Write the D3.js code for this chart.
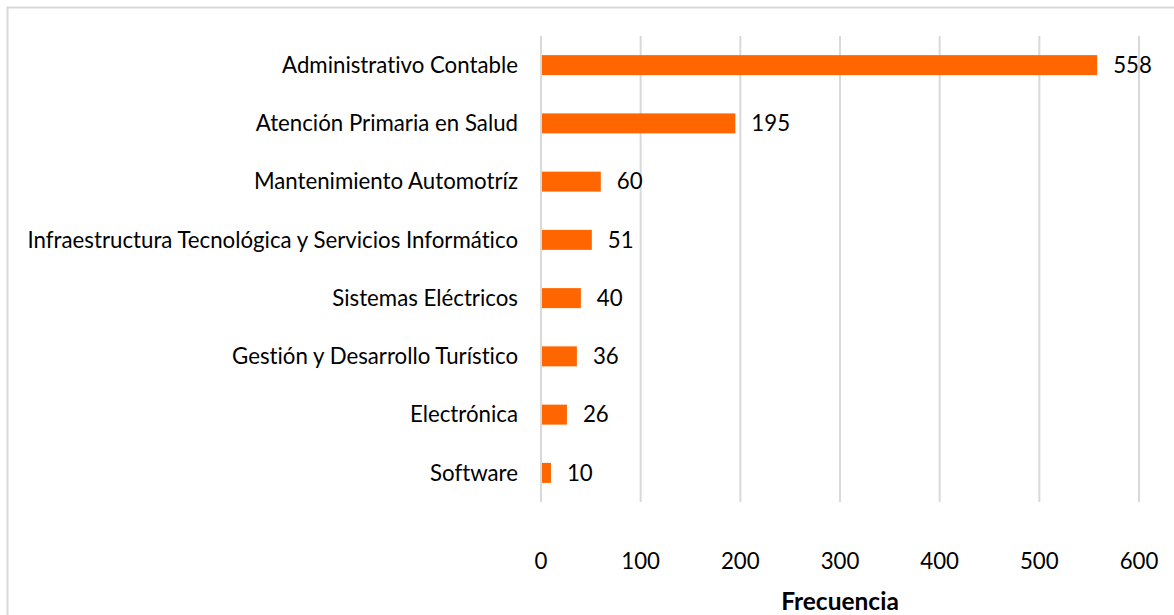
<!DOCTYPE html>
<html>
<head>
<meta charset="utf-8">
<script src="https://cdn.jsdelivr.net/npm/d3@7"></script>
<style>
  body { margin: 0; background: #fff; }
  text { font-family: Lato, "Open Sans", sans-serif; fill: #000; font-variant-ligatures: none; }
</style>
</head>
<body>
<div class="chart-area"></div>
<script>
const categories = [
    "Administrativo Contable",
    "Atención Primaria en Salud",
    "Mantenimiento Automotríz",
    "Infraestructura Tecnológica y Servicios Informático",
    "Sistemas Eléctricos",
    "Gestión y Desarrollo Turístico",
    "Electrónica",
    "Software"
];
const values = [558, 195, 60, 51, 40, 36, 26, 10];
const ticks = [0, 100, 200, 300, 400, 500, 600];
const axisTitle = "Frecuencia";

const width = 1174;
const height = 615;
const margin = { top: 36, right: 35, bottom: 113, left: 541 };

const svg = d3.select(".chart-area")
    .append("svg")
    .attr("width", width)
    .attr("height", height);

// outer frame
svg.append("rect")
    .attr("x", 7.5).attr("y", 7.5)
    .attr("width", width + 10).attr("height", height + 10)
    .attr("fill", "none")
    .attr("stroke", "#d9d9d9")
    .attr("stroke-width", 2);

const x = d3.scaleLinear()
    .domain([0, 600])
    .range([margin.left, width - margin.right]);

const y = d3.scaleBand()
    .domain(categories)
    .range([margin.top, height - margin.bottom])
    .paddingInner(0.657)
    .paddingOuter(0.3285);

// gridlines
svg.append("g")
    .selectAll("line")
    .data(ticks)
    .enter().append("line")
    .attr("x1", d => x(d)).attr("x2", d => x(d))
    .attr("y1", margin.top).attr("y2", height - margin.bottom)
    .attr("stroke", "#d9d9d9")
    .attr("stroke-width", 2);

// bars
svg.append("g")
    .selectAll("rect")
    .data(values)
    .enter().append("rect")
    .attr("x", x(0) + 1)
    .attr("y", (d, i) => y(categories[i]))
    .attr("width", d => x(d) - x(0) - 1)
    .attr("height", y.bandwidth())
    .attr("fill", "#ff6600");

// category labels
const catLabels = svg.append("g")
    .selectAll("text")
    .data(categories)
    .enter().append("text")
    .attr("x", x(0) - 23)
    .attr("y", d => y(d) + y.bandwidth() / 2)
    .attr("dy", "0.35em")
    .attr("text-anchor", "end")
    .attr("font-size", 19)
    .text(d => d);

// value labels
const valLabels = svg.append("g")
    .selectAll("text")
    .data(values)
    .enter().append("text")
    .attr("x", d => x(d) + 16)
    .attr("y", (d, i) => y(categories[i]) + y.bandwidth() / 2)
    .attr("dy", "0.35em")
    .attr("font-size", 19)
    .text(d => d);

// tick labels
const tickLabels = svg.append("g")
    .selectAll("text")
    .data(ticks)
    .enter().append("text")
    .attr("x", d => x(d))
    .attr("y", 569)
    .attr("text-anchor", "middle")
    .attr("font-size", 19)
    .text(d => d);

// axis title
const title = svg.append("text")
    .attr("x", (x(0) + x(600)) / 2)
    .attr("y", 610)
    .attr("text-anchor", "middle")
    .attr("font-size", 19)
    .attr("font-weight", "bold")
    .text(axisTitle);

// fit font size so the longest label spans what the reference shows
const longest = catLabels.filter((d, i) => i === 3).node().getComputedTextLength();
const fs = 19 * 491 / longest;
catLabels.attr("font-size", fs);
valLabels.attr("font-size", fs);
tickLabels.attr("font-size", fs);
title.attr("font-size", fs * 1.1);
</script>
</body>
</html>
